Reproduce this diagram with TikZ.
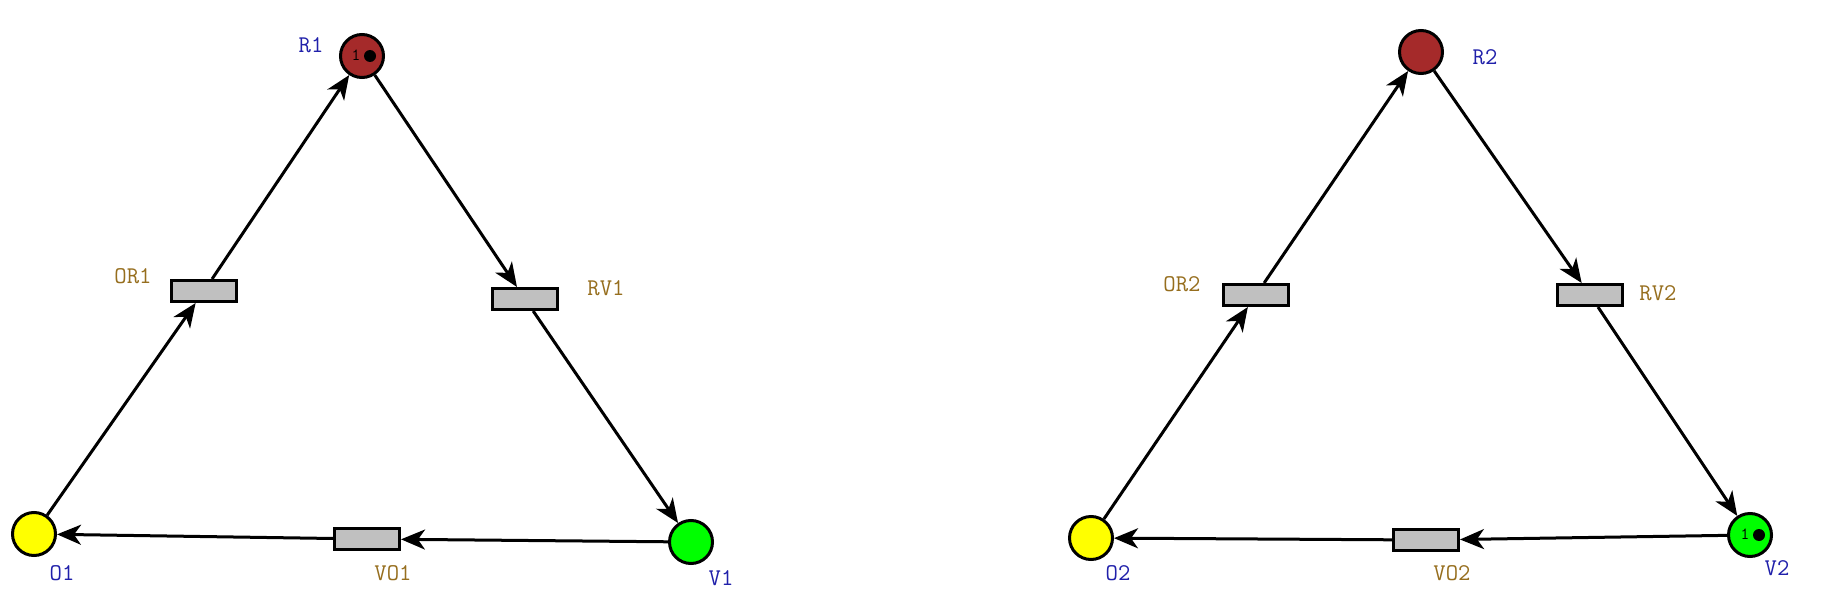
\documentclass[tikz,border=0pt]{standalone}
\usetikzlibrary{arrows.meta}
\definecolor{placeblue}{RGB}{32,32,170}
\definecolor{transgold}{RGB}{150,110,30}
\definecolor{rcol}{RGB}{165,42,42}
\definecolor{ocol}{RGB}{255,255,0}
\definecolor{vcol}{RGB}{0,255,0}
\definecolor{tcol}{RGB}{192,192,192}
\tikzset{
  place/.style={circle, draw=black, line width=3pt, minimum size=43pt, inner sep=0pt},
  trans/.style={rectangle, draw=black, line width=3pt, fill=tcol, minimum width=65pt, minimum height=21pt, inner sep=0pt},
  plabel/.style={text=placeblue, font=\fontsize{24}{24}\selectfont\ttfamily, inner sep=0pt},
  tlabel/.style={text=transgold, font=\fontsize{24}{24}\selectfont\ttfamily, inner sep=0pt},
  arc/.style={draw=black, line width=3pt, -{Stealth[length=24pt,width=20pt,inset=7pt]}},
  tokdot/.style={circle, fill=black, minimum size=12pt, inner sep=0pt},
  toknum/.style={font=\fontsize{17}{17}\selectfont\ttfamily, text=black, inner sep=0pt}
}
\begin{document}
\begin{tikzpicture}[x=1pt,y=-1pt]
\useasboundingbox (0,0) rectangle (1821,602);
% left net
\node[place, fill=rcol] (R1) at (362,56) {};
\node[place, fill=ocol] (O1) at (34,534) {};
\node[place, fill=vcol] (V1) at (691,542) {};
\node[trans] (OR1) at (204,291) {};
\node[trans] (RV1) at (525,299) {};
\node[trans] (VO1) at (367,539) {};
\node[tokdot] (R1tok) at (370,56) {};
\node[toknum] (R1num) at (356,55) {1};
\node[plabel] (R1l) at (311,45) {R1};
\node[plabel] (O1l) at (62,573) {O1};
\node[plabel] (V1l) at (721,578) {V1};
\node[tlabel] (OR1l) at (133,276) {OR1};
\node[tlabel] (RV1l) at (606,288) {RV1};
\node[tlabel] (VO1l) at (393,573) {VO1};
\draw[arc] (O1) -- (OR1);
\draw[arc] (OR1) -- (R1);
\draw[arc] (R1) -- (RV1);
\draw[arc] (RV1) -- (V1);
\draw[arc] (V1) -- (VO1);
\draw[arc] (VO1) -- (O1);
% right net
\node[place, fill=rcol] (R2) at (1421,52) {};
\node[place, fill=ocol] (O2) at (1091,538) {};
\node[place, fill=vcol] (V2) at (1750,535) {};
\node[trans] (OR2) at (1256,295) {};
\node[trans] (RV2) at (1590,295) {};
\node[trans] (VO2) at (1426,540) {};
\node[tokdot] (V2tok) at (1759,535) {};
\node[toknum] (V2num) at (1745,534) {1};
\node[plabel] (R2l) at (1485,57) {R2};
\node[plabel] (O2l) at (1118,573) {O2};
\node[plabel] (V2l) at (1777,568) {V2};
\node[tlabel] (OR2l) at (1182,284) {OR2};
\node[tlabel] (RV2l) at (1658,293) {RV2};
\node[tlabel] (VO2l) at (1452,573) {VO2};
\draw[arc] (O2) -- (OR2);
\draw[arc] (OR2) -- (R2);
\draw[arc] (R2) -- (RV2);
\draw[arc] (RV2) -- (V2);
\draw[arc] (V2) -- (VO2);
\draw[arc] (VO2) -- (O2);
\end{tikzpicture}
\end{document}
